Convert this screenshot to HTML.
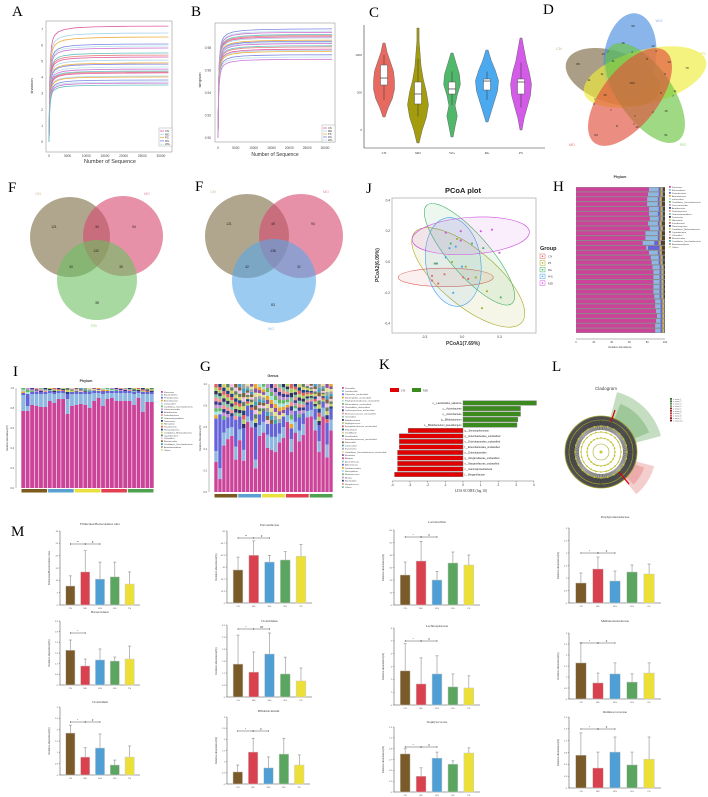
<!DOCTYPE html>
<html><head><meta charset="utf-8"><title>Figure</title>
<style>html,body{margin:0;padding:0;background:#fff;}svg{display:block;}</style></head>
<body>
<svg id="fig" xmlns="http://www.w3.org/2000/svg" width="708" height="797" viewBox="0 0 708 797" font-family="Liberation Sans, sans-serif">
<rect width="708" height="797" fill="#fff"/>
<g font-family="Liberation Serif, serif" font-size="15" fill="#000">
<text x="12" y="16">A</text>
<text x="191" y="16">B</text>
<text x="369" y="17">C</text>
<text x="543" y="14">D</text>
<text x="8" y="192">F</text>
<text x="195" y="191">F</text>
<text x="366" y="193">J</text>
<text x="553" y="191">H</text>
<text x="13" y="376">I</text>
<text x="200" y="371">G</text>
<text x="379" y="369">K</text>
<text x="552" y="371">L</text>
<text x="11" y="536">M</text>
</g>
</svg>
<script>
// ---------- DATA ----------
const rareDepth=[0,200,400,700,1000,1500,2500,4000,7000,12000,20000,32000];
const rareShape=[0,0.55,0.72,0.83,0.88,0.92,0.95,0.97,0.985,0.993,0.998,1];
const shannonPlateau=[7.2,6.77,6.52,6.09,5.96,5.84,5.53,5.40,5.28,5.09,4.91,4.84,4.66,4.53,4.41,4.35,4.29,4.10,4.04,3.85,3.73,3.66,3.54];
const simpsonPlateau=[0.997,0.995,0.994,0.992,0.991,0.990,0.989,0.987,0.986,0.985,0.984,0.982,0.981,0.979,0.978,0.977,0.974,0.972,0.970];
const rareXTicks=[0,5000,10000,15000,20000,25000,30000];
const shannonTicks=[0,1,2,3,4,5,6,7];
const simpsonTicks=[0.90,0.92,0.94,0.96,0.98];
const rareGroups=['CN','MD','PS','RG','WG'];

const violinGroups=['CN','MD','WG','RG','PS'];
const violinMin=[173,-173,-93,107,0];
const violinMax=[1160,1360,1027,1067,1227];
const violinQ1=[600,347,480,533,480];
const violinMed=[693,480,547,653,640];
const violinQ3=[867,640,640,680,680];
const violinWLo=[400,180,330,400,300];
const violinWHi=[1000,950,780,780,900];
const violinProfile=[[1,4,8,10,10,9,6,3,1],[1,4,8,10,8,5,3,2,1,1],[1,3,5,3,5,8,7,4,1],[1,4,7,10,11,8,4,1],[1,3,6,9,10,8,5,3,1]];
const violinTicks=[0,500,1000];

const pcoaCN=[[-0.24,-0.09],[-0.24,-0.12],[-0.19,-0.14],[-0.14,-0.08],[0.01,-0.10],[0.05,-0.11]];
const pcoaPS=[[-0.22,-0.01],[-0.08,0],[0.03,-0.03],[0.11,-0.10],[0.20,-0.19],[0.16,-0.30],[-0.04,0.15]];
const pcoaRG=[[-0.09,0.12],[-0.01,0.14],[0.08,0.12],[0.17,0.09],[0.31,-0.23],[-0.20,-0.01]];
const pcoaWG=[[-0.10,0.09],[-0.05,0.10],[-0.13,0.03],[0,-0.03],[-0.07,-0.20],[-0.21,-0.01]];
const pcoaMD=[[-0.13,0.19],[-0.01,0.20],[0.15,0.20],[0.24,0.21],[0.30,0.06],[-0.01,0.14]];
const pcoaXTicks=[-0.3,0.0,0.3];
const pcoaYTicks=[0.4,0.2,0.0,-0.2,-0.4];

const hMagenta=[0.82,0.81,0.80,0.80,0.82,0.82,0.83,0.81,0.83,0.78,0.78,0.75,0.79,0.82,0.84,0.85,0.86,0.87,0.87,0.87,0.87,0.87,0.88,0.89,0.89,0.90,0.91,0.90,0.89,0.89];
const hLightBlue=[0.11,0.12,0.12,0.12,0.11,0.10,0.10,0.11,0.10,0.14,0.14,0.13,0.02,0.10,0.09,0.08,0.08,0.07,0.07,0.07,0.07,0.07,0.06,0.06,0.06,0.05,0.04,0.05,0.06,0.06];
const hBlue=[0.02,0.02,0.02,0.02,0.02,0.03,0.02,0.02,0.02,0.02,0.02,0.05,0.13,0.02,0.02,0.02,0.02,0.02,0.02,0.02,0.02,0.02,0.02,0.02,0.02,0.02,0.02,0.02,0.02,0.02];
const hTicks=[0,20,40,60,80,100];
const phylumNames=['Firmicutes','Bacteroidetes','Proteobacteria','Actinobacteria','unclassified','Candidatus_Saccharibacteria','Verrucomicrobia','Acidobacteria','Deferribacteres','Gemmatimonadetes','Tenericutes','Nitrospirae','Fusobacteria','Planctomycetes','Candidatus_Melainabacteria','Cyanobacteria','Chloroflexi','Elusimicrobia','Candidatus_Saccharibacteria','Armatimonadetes','Others'];

const iMagenta=[0.77,0.77,0.83,0.82,0.81,0.81,0.87,0.85,0.89,0.89,0.74,0.82,0.83,0.84,0.83,0.80,0.87,0.90,0.82,0.89,0.90,0.87,0.87,0.87,0.87,0.83,0.90,0.76,0.86,0.86];
const iLightBlue=[0.16,0.05,0.11,0.12,0.13,0.13,0.08,0.09,0.06,0.06,0.15,0.12,0.11,0.10,0.11,0.14,0.08,0.05,0.12,0.06,0.05,0.08,0.08,0.08,0.08,0.11,0.05,0.18,0.08,0.08];
const iBlue=[0.02,0.12,0.02,0.02,0.02,0.02,0.02,0.02,0.02,0.02,0.05,0.02,0.02,0.02,0.02,0.02,0.02,0.02,0.02,0.02,0.02,0.02,0.02,0.02,0.02,0.02,0.02,0.02,0.02,0.02];

const gMagenta=[0.28,0.12,0.43,0.49,0.52,0.30,0.48,0.29,0.65,0.60,0.22,0.52,0.55,0.41,0.39,0.37,0.46,0.50,0.65,0.37,0.55,0.47,0.53,0.69,0.70,0.57,0.37,0.70,0.32,0.57];
const gLightBlue=[0.10,0.10,0.12,0.10,0.08,0.12,0.10,0.10,0.05,0.06,0.08,0.10,0.10,0.12,0.12,0.14,0.08,0.10,0.06,0.12,0.10,0.10,0.10,0.06,0.06,0.10,0.10,0.08,0.12,0.10];
const gBlue=[0.30,0.50,0.12,0.10,0.10,0.25,0.12,0.20,0.10,0.10,0.30,0.10,0.10,0.10,0.12,0.12,0.10,0.10,0.05,0.10,0.10,0.12,0.10,0.06,0.08,0.10,0.15,0.06,0.20,0.10];
const genusNames=['Prevotella','Lactobacillus','Firmicutes_unclassified','Bacteroidales_unclassified','Porphyromonadaceae_unclassified','Bacteroidetes_unclassified','Clostridiales_unclassified','Lachnospiraceae_unclassified','Ruminococcaceae_unclassified','Clostridium','Bifidobacterium','Staphylococcus','Erysipelotrichaceae_unclassified','Helicobacter','Oscillibacter','Desulfovibrio','Enterobacteriaceae_unclassified','Barnesiella','unclassified','Escherichia','Candidatus_Saccharibacteria_unclassified','Roseburia','Alistipes','Anaerotruncus','Akkermansia','Parabacteroides','Mucispirillum','Ruminococcus','Blautia','Bacteroides','Streptococcus','Others'];

const ldaLabels=['s__Lactobacillus_salivarius','c__Actinobacteria','o__Actinobacteria','g__Bifidobacterium','s__Bifidobacterium_pseudolongum','g__Stenotrophomonas','g__Enterobacterales_unclassified','s__Enterobacterales_unclassified','f__Enterobacterales_unclassified','o__Enterobacterales','g__Morganellaceae_unclassified','s__Morganellaceae_unclassified','c__Gammaproteobacteria','f__Morganellaceae'];
const ldaScores=[4.15,3.25,3.25,3.1,3.05,-3.1,-3.6,-3.6,-3.6,-3.7,-3.7,-3.7,-3.7,-3.87];
const ldaTicks=[-4,-3,-2,-1,0,1,2,3,4];

const mGroups=['CN','MD','WG','RG','PS'];
const mFBVals=[7.7,13.4,10.5,11.4,8.5], mFBErr=[11.8,22,17.4,17.4,13.4];
const mPrevVals=[36.7,53,45.5,47.8,52], mPrevErr=[51,69,53,57,65];
const mLactVals=[24,35.2,20,33.6,32], mLactErr=[34.4,51,27,42.4,40];
const mPorVals=[0.8,1.36,0.88,1.24,1.16], mPorErr=[1.2,1.84,1.28,1.52,1.56];
const mBactVals=[1.9,1.04,1.37,1.31,1.42], mBactErr=[2.46,1.42,1.97,1.53,2.13];
const mClosVals=[1.60,1.21,2.09,1.12,0.78], mClosErr=[3.01,2.19,3.11,1.94,1.41];
const mLachVals=[2.66,1.64,2.42,1.41,1.33], mLachErr=[4.77,3.67,3.83,2.42,2.27];
const mMethVals=[1.64,0.73,1.14,0.77,1.18], mMethErr=[2.55,1.18,1.64,1.14,1.64];
const mClosgVals=[1.85,0.79,1.19,0.44,0.79], mClosgErr=[2.2,1.2,1.81,0.66,1.28];
const mBifVals=[0.54,1.43,0.72,1.34,0.85], mBifErr=[0.85,2.05,1.21,2.05,1.3];
const mStaVals=[0.82,0.34,0.73,0.60,0.84], mStaErr=[0.93,0.52,0.86,0.67,0.95];
const mRumVals=[0.74,0.45,0.81,0.52,0.65], mRumErr=[1.24,0.81,1.15,0.81,1.15];

// ---------- HELPERS ----------
const NS='http://www.w3.org/2000/svg';
const svg=document.getElementById('fig');
function mk(tag,attrs,name,parent){
  const el=document.createElementNS(NS,tag);
  for(const k in attrs) el.setAttribute(k,attrs[k]);
  
  
  (parent||svg).appendChild(el);
  return el;
}
function txt(x,y,s,size,extra,name,parent){
  const a={x:x,y:y,'font-size':size};
  if(extra) for(const k in extra) a[k]=extra[k];
  const t=mk('text',a,name,parent);
  t.textContent=s;
  return t;
}
const curveColors=['#e05ca0','#a9d4ea','#f0b040','#7b86e0','#b9e3f0','#d070d0','#60c0c0','#e88080'];

// ---------- A: shannon rarefaction ----------
(function(){
  const g=mk('g',{},'panel-a-shannon');
  mk('rect',{x:46,y:21,width:126,height:131,fill:'none',stroke:'#999','stroke-width':0.6},'plot-frame',g);
  const xs=v=>49+v*0.00373, ys=v=>142-v*16.1;
  rareXTicks.forEach(t=>{txt(xs(t),157,String(t),3.2,{'text-anchor':'middle',fill:'#444'},'x-tick-label',g);});
  shannonTicks.forEach(t=>{txt(43,ys(t)+1,String(t),3.2,{'text-anchor':'end',fill:'#444'},'y-tick-label',g);});
  txt(110,163,'Number of Sequence',5.5,{'text-anchor':'middle',fill:'#333'},'x-axis-title',g);
  txt(0,0,'shannon',4,{'text-anchor':'middle',fill:'#333',transform:'translate(33,86) rotate(-90)'},'y-axis-title',g);
  shannonPlateau.forEach((p,i)=>{
    const pts=rareDepth.map((d,j)=>xs(d).toFixed(1)+','+ys(p*rareShape[j]).toFixed(1)).join(' ');
    mk('polyline',{points:pts,fill:'none',stroke:curveColors[i%curveColors.length],'stroke-width':0.8},'rarefaction-curve',g);
  });
  mk('rect',{x:159,y:128,width:13,height:18,fill:'#fff',stroke:'#999','stroke-width':0.4},'legend-box',g);
  rareGroups.forEach((n,i)=>{
    mk('line',{x1:160,x2:164,y1:131+i*3.3,y2:131+i*3.3,stroke:curveColors[i],'stroke-width':0.8},'legend-line',g);
    txt(165,132+i*3.3,n,2.8,{fill:'#333'},'legend-entry',g);
  });
})();

// ---------- B: simpson rarefaction ----------
(function(){
  const g=mk('g',{},'panel-b-simpson');
  mk('rect',{x:215,y:23,width:120,height:119,fill:'none',stroke:'#999','stroke-width':0.6},'plot-frame',g);
  const xs=v=>218+v*0.003567, ys=v=>138-(v-0.90)/0.02*22.5;
  rareXTicks.forEach(t=>{txt(xs(t),149,String(t),3.2,{'text-anchor':'middle',fill:'#444'},'x-tick-label',g);});
  simpsonTicks.forEach(t=>{txt(211,ys(t)+1,t.toFixed(2),3.2,{'text-anchor':'end',fill:'#444'},'y-tick-label',g);});
  txt(275,156,'Number of Sequence',5,{'text-anchor':'middle',fill:'#333'},'x-axis-title',g);
  txt(0,0,'simpson',4,{'text-anchor':'middle',fill:'#333',transform:'translate(201,80) rotate(-90)'},'y-axis-title',g);
  simpsonPlateau.forEach((p,i)=>{
    const pts=rareDepth.map((d,j)=>xs(d).toFixed(1)+','+ys(0.90+(p-0.90)*rareShape[j]).toFixed(1)).join(' ');
    mk('polyline',{points:pts,fill:'none',stroke:curveColors[(i+3)%curveColors.length],'stroke-width':0.8},'rarefaction-curve',g);
  });
  mk('rect',{x:322,y:125,width:13,height:17,fill:'#fff',stroke:'#999','stroke-width':0.4},'legend-box',g);
  rareGroups.forEach((n,i)=>{
    mk('line',{x1:323,x2:327,y1:128+i*3,y2:128+i*3,stroke:curveColors[i],'stroke-width':0.8},'legend-line',g);
    txt(328,129+i*3,n,2.6,{fill:'#333'},'legend-entry',g);
  });
})();

// ---------- C: violin ----------
(function(){
  const g=mk('g',{},'panel-c-violin');
  const cx=[384,418,452,487,521], vs=v=>130-v*0.075;
  const cols=['#e8695f','#a39c0c','#4fb86b','#4ba9f0','#d45be8'];
  mk('line',{x1:364,x2:364,y1:25,y2:148,stroke:'#333','stroke-width':0.6},'y-axis',g);
  mk('line',{x1:364,x2:545,y1:148,y2:148,stroke:'#333','stroke-width':0.6},'x-axis',g);
  violinTicks.forEach(t=>{txt(362,vs(t)+1,String(t),3,{'text-anchor':'end',fill:'#444'},'y-tick-label',g);});
  violinGroups.forEach((n,i)=>{
    const prof=violinProfile[i], lo=violinMin[i], hi=violinMax[i];
    const L=[],R=[];
    prof.forEach((w,j)=>{const v=lo+(hi-lo)*j/(prof.length-1);const y=vs(v);R.push([cx[i]+w*1.05,y]);L.push([cx[i]-w*1.05,y]);});
    const pts=R.concat(L.reverse()).map(p=>p[0].toFixed(1)+','+p[1].toFixed(1)).join(' ');
    mk('polygon',{points:pts,fill:cols[i],stroke:'#555','stroke-width':0.4,'stroke-linejoin':'round'},'violin-'+n.toLowerCase(),g);
    mk('line',{x1:cx[i],x2:cx[i],y1:vs(violinWLo[i]),y2:vs(violinWHi[i]),stroke:'#444','stroke-width':0.6},'whisker',g);
    mk('rect',{x:cx[i]-3.5,y:vs(violinQ3[i]),width:7,height:vs(violinQ1[i])-vs(violinQ3[i]),fill:'#fff',stroke:'#555','stroke-width':0.5},'box',g);
    mk('line',{x1:cx[i]-3.5,x2:cx[i]+3.5,y1:vs(violinMed[i]),y2:vs(violinMed[i]),stroke:'#333','stroke-width':0.7},'median',g);
    txt(cx[i],154,n,3.5,{'text-anchor':'middle','font-family':'Liberation Serif, serif',fill:'#333'},'x-tick-label',g);
  });
})();

// ---------- D: 5-way venn ----------
(function(){
  const g=mk('g',{},'panel-d-venn');
  const ells=[['cn','#7d6a45',613,77,49,26,18],['wg','#4a8ee0',630,57,26,44,8],['ps','#eeec3a',645,77,63,27,-15],['rg','#6cc440',645,93,58,27,55],['md','#e2503e',630,97,58,28,-52]];
  ells.forEach(e=>{mk('ellipse',{cx:e[2],cy:e[3],rx:e[4],ry:e[5],fill:e[1],'fill-opacity':0.65,transform:'rotate('+e[6]+' '+e[2]+' '+e[3]+')'},'venn-set-'+e[0],g);});
  const nums=[[59,633,26],[16,623,43],[10,653,46],[13,603,54],[7,608,52],[4,632,52],[4,656,51],[8,647,59],[10,669,62],[79,687,68],[89,578,64],[11,613,61],[11,602,74],[11,589,80],[6,665,74],[100,632,83],[15,605,95],[5,661,93],[11,675,91],[7,673,96],[1,595,99],[6,594,104],[7,611,110],[15,666,111],[2,653,112],[7,635,116],[8,617,126],[1,634,124],[10,637,127],[64,596,135],[51,666,135]];
  nums.forEach(n=>{txt(n[1],n[2]+1,String(n[0]),3,{'text-anchor':'middle',fill:'#222'},'venn-count',g);});
  [['WG',659,22,'#8fb3e8'],['CN',559,50,'#c8b48a'],['PS',703,55,'#e0d840'],['MD',572,146,'#e88080'],['RG',683,146,'#8fd870']].forEach(l=>{txt(l[1],l[2],l[0],4,{'text-anchor':'middle',fill:l[3]},'venn-label',g);});
})();

// ---------- F: 3-way venns ----------
(function(){
  function venn(c,cols,labels,nums,lpos,name){
    const g=mk('g',{},name);
    c.forEach((p,i)=>{mk('circle',{cx:p[0],cy:p[1],r:p[2],fill:cols[i],'fill-opacity':0.6},'venn-set',g);});
    nums.forEach(n=>{txt(n[1],n[2]+1,String(n[0]),3.3,{'text-anchor':'middle',fill:'#222'},'venn-count',g);});
    labels.forEach((l,i)=>{txt(lpos[i][0],lpos[i][1],l,3.8,{'text-anchor':'middle',fill:lpos[i][2]},'venn-label',g);});
  }
  venn([[70,237,40],[123,236,40],[97,280,40]],['#7b6a42','#d7476f','#6cc060'],['CN','MD','RG'],
    [[121,54,227],[34,97,227],[94,134,227],[132,96,251],[40,71,267],[35,121,267],[35,97,303]],
    [[38,195,'#c8b48a'],[147,195,'#e890a0'],[94,327,'#8fd870']],'panel-f1-venn');
  venn([[247,236,42],[301,236,42],[274,281,42]],['#7b6a42','#d7476f','#5aa8e8'],['CN','MD','WG'],
    [[121,229,224],[49,273,224],[94,313,224],[138,273,251],[42,247,267],[31,299,267],[83,273,305]],
    [[213,193,'#c8b48a'],[326,193,'#e890a0'],[271,330,'#8fc0f0']],'panel-f2-venn');
})();

// ---------- J: PCoA ----------
(function(){
  const g=mk('g',{},'panel-j-pcoa');
  const xs=v=>462+v*125, ys=v=>262-v*154;
  txt(463,193,'PCoA plot',7.5,{'text-anchor':'middle','font-weight':'bold',fill:'#222'},'chart-title',g);
  mk('rect',{x:392,y:198,width:144,height:135,fill:'none',stroke:'#999','stroke-width':0.6},'plot-frame',g);
  pcoaXTicks.forEach(t=>{txt(xs(t),338,t.toFixed(1),3.2,{'text-anchor':'middle',fill:'#333'},'x-tick-label',g);});
  pcoaYTicks.forEach(t=>{txt(390,ys(t)+1,t.toFixed(1),3.2,{'text-anchor':'end',fill:'#333'},'y-tick-label',g);});
  txt(463,345,'PCoA1(7.69%)',5,{'text-anchor':'middle','font-weight':'bold',fill:'#333'},'x-axis-title',g);
  txt(0,0,'PCoA2(6.09%)',5,{'text-anchor':'middle','font-weight':'bold',fill:'#333',transform:'translate(379,265) rotate(-90)'},'y-axis-title',g);
  const groups=[['CN',pcoaCN,'#e06060',[-0.13,-0.10,0.38,0.06,0]],['PS',pcoaPS,'#a8a820',[0.05,-0.10,0.56,0.18,40]],['RG',pcoaRG,'#40b060',[0.06,0.05,0.52,0.13,49]],['WG',pcoaWG,'#40a0e8',[-0.07,0.0,0.22,0.29,-8]],['MD',pcoaMD,'#d050e0',[0.07,0.17,0.47,0.12,-4]]];
  groups.forEach(gr=>{
    const e=gr[3];
    mk('ellipse',{cx:xs(e[0]),cy:ys(e[1]),rx:e[2]*125,ry:e[3]*154,fill:gr[2],'fill-opacity':0.1,stroke:gr[2],'stroke-width':0.6,transform:'rotate('+e[4]+' '+xs(e[0])+' '+ys(e[1])+')'},'ellipse-'+gr[0].toLowerCase(),g);
  });
  groups.forEach(gr=>{gr[1].forEach(p=>{mk('rect',{x:xs(p[0])-0.9,y:ys(p[1])-0.9,width:1.8,height:1.8,fill:gr[2]},'point-'+gr[0].toLowerCase(),g);});});
  txt(540,250,'Group',5.5,{'font-weight':'bold',fill:'#222'},'legend-title',g);
  groups.forEach((gr,i)=>{
    mk('rect',{x:540,y:254+i*6.7,width:5,height:4.5,fill:'#fff',stroke:gr[2],'stroke-width':0.5},'legend-key',g);
    mk('rect',{x:541.8,y:255.6+i*6.7,width:1.4,height:1.4,fill:gr[2]},'legend-dot',g);
    txt(548,257.5+i*6.7,gr[0],3,{fill:'#333','font-family':'Liberation Serif, serif'},'legend-entry',g);
  });
})();

// ---------- stacked palette ----------
const stackPal=['#cc4499','#8fb8e0','#6464d8','#e8a828','#a8e0e0','#60b860','#c090d0','#3a3a8a','#f09090','#80c0a0','#303060','#b0d060','#e06060','#204080','#d0d060','#608060','#f0c0e0','#806040','#40a0c0','#a0a0a0','#e0e090','#9050a0'];

// ---------- H: horizontal stacked ----------
(function(){
  const g=mk('g',{},'panel-h-phylum');
  const x0=576,x1=665,y0=187,y1=333,n=hMagenta.length,bh=(y1-y0)/n;
  const xs=v=>x0+v*(x1-x0);
  txt(620,178,'Phylum',3.5,{'text-anchor':'middle','font-weight':'bold',fill:'#333'},'chart-title',g);
  mk('rect',{x:x0,y:y0,width:x1-x0,height:y1-y0,fill:'#8a8a8a'},'bar-background',g);
  hMagenta.forEach((m,i)=>{
    const y=y0+i*bh+0.5, segs=[m,hLightBlue[i],hBlue[i],0.015,0.008];
    let acc=0;
    segs.forEach((s,j)=>{mk('rect',{x:xs(acc),y:y,width:s*(x1-x0),height:bh-1,fill:stackPal[j]},'bar-segment',g);acc+=s;});
    mk('rect',{x:xs(acc),y:y,width:Math.max(0,(1-acc))*(x1-x0),height:bh-1,fill:'#504030'},'bar-segment-other',g);
  });
  mk('line',{x1:x0,x2:x1,y1:339,y2:339,stroke:'#444','stroke-width':0.4},'x-axis',g);
  hTicks.forEach(t=>{txt(xs(t/100),343,String(t),2.6,{'text-anchor':'middle',fill:'#444'},'x-tick-label',g);});
  txt(620,348,'Relative abundance',2.6,{'text-anchor':'middle',fill:'#444'},'x-axis-title',g);
  phylumNames.forEach((nm,i)=>{
    mk('rect',{x:669,y:186+i*3,width:1.8,height:1.8,fill:stackPal[i%stackPal.length]},'legend-key',g);
    txt(672,187.8+i*3,nm,2.2,{fill:'#444'},'legend-entry',g);
  });
})();

// ---------- vertical stacked helper ----------
function vstack(name,x0,x1,y0,y1,mag,lb,bl,extraN,names,title,tx,ty,lx,ly,lstep,groupY){
  const g=mk('g',{},name);
  const n=mag.length,bw=(x1-x0)/n;
  const ys=v=>y1-v*(y1-y0);
  txt(tx,ty,title,3.5,{'text-anchor':'middle','font-weight':'bold',fill:'#333'},'chart-title',g);
  mk('line',{x1:x0-5,x2:x0-5,y1:y0,y2:y1,stroke:'#555','stroke-width':0.4},'y-axis',g);
  [0,0.2,0.4,0.6,0.8,1].forEach(t=>{txt(x0-7,ys(t)+1,t.toFixed(1),2.5,{'text-anchor':'end',fill:'#444'},'y-tick-label',g);});
  txt(0,0,'Relative Abundance(%)',2.5,{'text-anchor':'middle',fill:'#444',transform:'translate('+(x0-13)+','+((y0+y1)/2)+') rotate(-90)'},'y-axis-title',g);
  mag.forEach((m,i)=>{
    const x=x0+i*bw+0.3;
    const base=[m,lb[i],bl[i]];
    const rest=Math.max(0,1-m-lb[i]-bl[i]);
    let acc=0;
    base.forEach((s,j)=>{mk('rect',{x:x,y:ys(acc+s),width:bw-0.6,height:s*(y1-y0),fill:stackPal[j]},'bar-segment',g);acc+=s;});
    for(let k=0;k<extraN;k++){
      const s=rest/extraN;
      mk('rect',{x:x,y:ys(acc+s),width:bw-0.6,height:s*(y1-y0),fill:stackPal[3+((k+i)%(stackPal.length-3))]},'bar-segment',g);acc+=s;
    }
  });
  const gc=['#7a5a1e','#5aa0d0','#e8e040','#e04050','#50a050'];
  gc.forEach((c,i)=>{mk('rect',{x:x0+i*(x1-x0)/5+0.5,y:groupY,width:(x1-x0)/5-1,height:3.5,fill:c},'group-bar',g);});
  names.forEach((nm,i)=>{
    mk('rect',{x:lx,y:ly+i*lstep,width:1.8,height:1.8,fill:stackPal[i%stackPal.length]},'legend-key',g);
    txt(lx+3,ly+1.8+i*lstep,nm,2.2,{fill:'#444'},'legend-entry',g);
  });
}
vstack('panel-i-phylum',21,154,388,488,iMagenta,iLightBlue,iBlue,3,phylumNames,'Phylum',86,382,161,391,2.9,489);
vstack('panel-g-genus',214,333,384,492,gMagenta,gLightBlue,gBlue,10,genusNames,'Genus',273,377,342,387,3.2,494);

// ---------- K: LDA ----------
(function(){
  const g=mk('g',{},'panel-k-lda');
  const xs=v=>463+v*17.7, y0=403, step=5.5, bh=4.5;
  mk('rect',{x:390,y:388,width:9,height:4,fill:'#e00000'},'legend-key-cn',g);
  txt(401,391.5,'CN',3,{fill:'#333','font-family':'Liberation Serif, serif'},'legend-entry',g);
  mk('rect',{x:412,y:388,width:9,height:4,fill:'#3a8a1e'},'legend-key-md',g);
  txt(423,391.5,'MD',3,{fill:'#333','font-family':'Liberation Serif, serif'},'legend-entry',g);
  ldaScores.forEach((v,i)=>{
    const y=y0+i*step-bh/2;
    const pos=v>=0;
    mk('rect',{x:Math.min(xs(0),xs(v)),y:y,width:Math.abs(xs(v)-xs(0)),height:bh,fill:pos?'#3a8a1e':'#e00000',stroke:'#777','stroke-width':0.4},'lda-bar',g);
    txt(pos?xs(0)-1.5:xs(0)+1.5,y+3.2,ldaLabels[i],2.4,{'text-anchor':pos?'end':'start',fill:'#222'},'lda-bar-label',g);
  });
  mk('line',{x1:xs(-4),x2:xs(4),y1:481,y2:481,stroke:'#444','stroke-width':0.4},'x-axis',g);
  ldaTicks.forEach(t=>{
    mk('line',{x1:xs(t),x2:xs(t),y1:481,y2:482.5,stroke:'#444','stroke-width':0.4},'x-tick',g);
    txt(xs(t),486,String(t),3.2,{'text-anchor':'middle',fill:'#333'},'x-tick-label',g);
  });
  txt(471,492,'LDA SCORE (log 10)',3.6,{'text-anchor':'middle',fill:'#333','font-family':'Liberation Serif, serif'},'x-axis-title',g);
})();

// ---------- L: cladogram (decorative) ----------
(function(){
  const g=mk('g',{},'panel-l-cladogram');
  const cx=601,cy=452;
  txt(606,390,'Cladogram',4.5,{'text-anchor':'middle',fill:'#444'},'chart-title',g);
  function wedge(a0,a1,r,c,nm){
    const p=a=>[cx+r*Math.cos(a*Math.PI/180),cy+r*Math.sin(a*Math.PI/180)];
    const s=p(a0),e=p(a1);
    mk('path',{d:'M'+cx+','+cy+' L'+s[0]+','+s[1]+' A'+r+','+r+' 0 0 1 '+e[0]+','+e[1]+' Z',fill:c,'fill-opacity':0.35},nm,g);
  }
  wedge(-75,-15,62,'#5aa050','wedge-md');
  wedge(-68,-22,52,'#5aa050','wedge-md-inner');
  wedge(15,50,55,'#e07070','wedge-cn');
  wedge(20,45,46,'#e07070','wedge-cn-inner');
  mk('circle',{cx:cx,cy:cy,r:36,fill:'#fff',stroke:'#a8a820','stroke-width':0.8},'outer-ring',g);
  mk('circle',{cx:cx,cy:cy,r:31,fill:'none',stroke:'#666','stroke-width':9},'leaf-band',g);
  for(let k=0;k<240;k++){
    const a=k*2*Math.PI/240;
    mk('line',{x1:cx+22*Math.cos(a),y1:cy+22*Math.sin(a),x2:cx+36*Math.cos(a),y2:cy+36*Math.sin(a),stroke:'#222','stroke-width':0.35},'leaf-branch',g);
  }
  [8,14,20,26,32].forEach(r=>{mk('circle',{cx:cx,cy:cy,r:r,fill:'none',stroke:'#a8a820','stroke-width':0.6},'ring',g);});
  for(let k=0;k<24;k++){
    const a=k*2*Math.PI/24;[14,20,26].forEach(r=>{mk('circle',{cx:cx+r*Math.cos(a),cy:cy+r*Math.sin(a),r:0.9,fill:'#c8c830'},'node',g);});
  }
  mk('circle',{cx:cx,cy:cy,r:1.5,fill:'#c8c830'},'root-node',g);
  mk('line',{x1:cx+10,y1:cy-30,x2:cx+14,y2:cy-42,stroke:'#d00',"stroke-width":1.2},'highlight-clade',g);
  mk('line',{x1:cx+18,y1:cy+20,x2:cx+28,y2:cy+32,stroke:'#d00',"stroke-width":1.2},'highlight-clade',g);
  const lg=['#3a6a30','#3a6a30','#5a8a50','#7aa070','#8a2020','#a03030','#c04040','#d05050','#a02020','#701010'];
  lg.forEach((c,i)=>{
    mk('rect',{x:670,y:398+i*2.4,width:2,height:1.8,fill:c},'legend-key',g);
    txt(673,399.8+i*2.4,'a: taxon_'+(i+1),1.8,{fill:'#555'},'legend-entry',g);
  });
})();

// ---------- M: bar panels ----------
const mColors=['#7a5a28','#d9414e','#4f9fd4','#5aa55f','#ece038'];
const mPanels=[
 [60,140,531,605,30,'Firmicutes/Bacteroidetes ratio',525,544,['**','#'],mFBVals,mFBErr,'Firmicutes/Bacteroidetes ratio'],
 [227,312,531,603,80,'Prevotellaceae',526,538,['**','#'],mPrevVals,mPrevErr],
 [394,480,530,605,60,'Lactobacillus',523,537,['*','#'],mLactVals,mLactErr],
 [569,661,528,603,3,'Porphyromonadaceae',518,553,['*','#'],mPorVals,mPorErr],
 [60,140,621,685,3.5,'Bacteroidetes',613,633,['*'],mBactVals,mBactErr],
 [227,312,625,697,3.5,'Clostridiales',622,629,['*','##'],mClosVals,mClosErr],
 [394,480,628,705,6,'Lachnospiraceae',627,641,['*','#'],mLachVals,mLachErr],
 [569,661,633,699,3,'Methanobacteriaceae',622,643,['*','#'],mMethVals,mMethErr],
 [60,140,707,775,3,'Clostridium',703,722,['*','#'],mClosgVals,mClosgErr],
 [227,310,717,784,3,'Bifidobacterium',712,731,['*','#'],mBifVals,mBifErr],
 [394,480,727,792,1.4,'Staphylococcus',723,747,['*','#'],mStaVals,mStaErr],
 [569,661,717,788,1.6,'Ruminococcaceae',713,729,['*','#'],mRumVals,mRumErr]
];
mPanels.forEach((p,pi)=>{
  const [x0,x1,yT,yB,max,title,ty,sy,sig,vals,errs]=p;
  const g=mk('g',{},'m-panel-'+(pi+1));
  const ys=v=>yB-v/max*(yB-yT), band=(x1-x0)/5.4, bw=band*0.62;
  const cxs=mGroups.map((_,i)=>x0+band*(0.7+i));
  txt((x0+x1)/2,ty,title,3.3,{'text-anchor':'middle',fill:'#333','font-family':'Liberation Serif, serif'},'panel-title',g);
  mk('line',{x1:x0,x2:x0,y1:yT,y2:yB,stroke:'#444','stroke-width':0.5},'y-axis',g);
  mk('line',{x1:x0,x2:x1,y1:yB,y2:yB,stroke:'#444','stroke-width':0.5},'x-axis',g);
  for(let k=0;k<=6;k++){
    const v=max*k/6;
    mk('line',{x1:x0-1.2,x2:x0,y1:ys(v),y2:ys(v),stroke:'#444','stroke-width':0.4},'y-tick',g);
    txt(x0-2,ys(v)+0.8,String(Math.round(v*10)/10),2.2,{'text-anchor':'end',fill:'#555'},'y-tick-label',g);
  }
  txt(0,0,p[11]||'Relative abundance(%)',2.6,{'text-anchor':'middle',fill:'#444',transform:'translate('+(x0-10)+','+((yT+yB)/2)+') rotate(-90)'},'y-axis-title',g);
  vals.forEach((v,i)=>{
    mk('line',{x1:cxs[i],x2:cxs[i],y1:ys(v),y2:ys(errs[i]),stroke:'#777','stroke-width':0.5},'error-bar',g);
    mk('line',{x1:cxs[i]-1.5,x2:cxs[i]+1.5,y1:ys(errs[i]),y2:ys(errs[i]),stroke:'#777','stroke-width':0.5},'error-cap',g);
    mk('rect',{x:cxs[i]-bw/2,y:ys(v),width:bw,height:yB-ys(v),fill:mColors[i],stroke:'#ccc','stroke-width':0.5},'bar-'+mGroups[i].toLowerCase(),g);
    txt(cxs[i],yB+4,mGroups[i],2.2,{'text-anchor':'middle',fill:'#555'},'x-tick-label',g);
  });
  sig.forEach((s,k)=>{
    const a=cxs[k],b=cxs[k+1];
    mk('path',{d:'M'+a+','+(sy-1)+' V'+(sy+1)+' M'+a+','+sy+' H'+b+' M'+b+','+(sy-1)+' V'+(sy+1),stroke:'#555','stroke-width':0.5,fill:'none'},'significance-bracket',g);
    txt((a+b)/2,sy-1,s,2.6,{'text-anchor':'middle',fill:'#333'},'significance-label',g);
  });
});
</script>
</body></html>
